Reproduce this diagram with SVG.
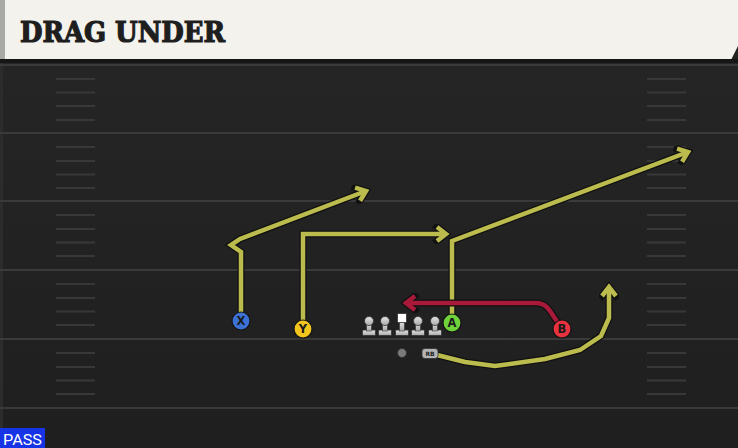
<svg xmlns="http://www.w3.org/2000/svg" width="738" height="448" viewBox="0 0 738 448">
<defs>
<linearGradient id="fieldGrad" x1="0" y1="0" x2="0" y2="1">
<stop offset="0" stop-color="#262626"/>
<stop offset="1" stop-color="#1f1f1f"/>
</linearGradient>
<linearGradient id="lineGrad" x1="0" y1="0" x2="0" y2="1">
<stop offset="0" stop-color="#e6e6e6"/>
<stop offset="1" stop-color="#a8a8a8"/>
</linearGradient>
<marker id="arrOut" markerUnits="userSpaceOnUse" viewBox="-14 -10 20 20" markerWidth="20" markerHeight="20" refX="0" refY="0" orient="auto">
<path d="M-9,-7 L0,0 L-9,7" fill="none" stroke="#111" stroke-width="7" stroke-linejoin="miter" stroke-linecap="square"/>
</marker>
<marker id="arrY" markerUnits="userSpaceOnUse" viewBox="-14 -10 20 20" markerWidth="20" markerHeight="20" refX="0" refY="0" orient="auto">
<path d="M-9,-7 L0,0 L-9,7" fill="none" stroke="#bcbc4e" stroke-width="4.5" stroke-linejoin="miter" stroke-linecap="butt"/>
</marker>
<marker id="arrR" markerUnits="userSpaceOnUse" viewBox="-14 -10 20 20" markerWidth="20" markerHeight="20" refX="0" refY="0" orient="auto">
<path d="M-9,-7 L0,0 L-9,7" fill="none" stroke="#a8193a" stroke-width="4.5" stroke-linejoin="miter" stroke-linecap="butt"/>
</marker>
<g id="lineman">
<rect x="-6.5" y="8" width="13" height="5.5" rx="1" fill="url(#lineGrad)" stroke="#333" stroke-width="0.8"/>
<rect x="-2.5" y="0" width="5" height="9" fill="url(#lineGrad)" stroke="#333" stroke-width="0.6"/>
<circle cx="0" cy="-1" r="4.5" fill="url(#lineGrad)" stroke="#333" stroke-width="0.8"/>
</g>
</defs>
<style>
.yard{stroke:#3a3a3a;stroke-width:2}
.hash{stroke:#383838;stroke-width:2}
.out{fill:none;stroke:#111;stroke-width:7;stroke-linejoin:miter}
.yel{fill:none;stroke:#bcbc4e;stroke-width:4.5;stroke-linejoin:miter}
.red{fill:none;stroke:#a8193a;stroke-width:4.5;stroke-linejoin:round}
.pl{stroke:#151515;stroke-width:1.2}
.lbl{font-family:"DejaVu Sans","Liberation Sans",sans-serif;font-weight:bold;font-size:11.5px;fill:#1a1a1a;text-anchor:middle}
</style>
<rect x="0" y="0" width="738" height="448" fill="url(#fieldGrad)"/>
<rect x="0" y="0" width="3" height="448" fill="#2c2c2c"/>
<g id="header">
<rect x="0" y="0" width="738" height="60" fill="#f4f2ec"/>
<rect x="0" y="0" width="5" height="60" fill="#a9a9a6"/>
<polygon points="738,46 738,60 731,60" fill="#222"/>
<rect x="0" y="59" width="738" height="4" fill="#161616"/>
<text x="20" y="42" font-family="'DejaVu Serif','Liberation Serif',serif" font-weight="bold" font-size="27" fill="#1e1e1e" stroke="#1e1e1e" stroke-width="1.2" textLength="205" lengthAdjust="spacingAndGlyphs">DRAG UNDER</text>
</g>
<g id="field">
<line class="yard" x1="0" y1="65" x2="738" y2="65"/>
<line class="yard" x1="0" y1="133" x2="738" y2="133"/>
<line class="yard" x1="0" y1="201" x2="738" y2="201"/>
<line class="yard" x1="0" y1="270" x2="738" y2="270"/>
<line class="yard" x1="0" y1="339" x2="738" y2="339"/>
<line class="yard" x1="0" y1="408" x2="738" y2="408"/>
<g class="hash">
<path d="M56,79H95M56,92.5H95M56,106H95M56,120H95M56,147H95M56,161H95M56,174.5H95M56,188H95M56,215H95M56,229H95M56,242.5H95M56,256H95M56,284H95M56,298H95M56,311.5H95M56,325H95M56,353H95M56,367H95M56,380.5H95M56,394H95"/>
<path d="M647,79H686M647,92.5H686M647,106H686M647,120H686M647,147H686M647,161H686M647,174.5H686M647,188H686M647,215H686M647,229H686M647,242.5H686M647,256H686M647,284H686M647,298H686M647,311.5H686M647,325H686M647,353H686M647,367H686M647,380.5H686M647,394H686"/>
</g>
</g>
<g id="connectors">
<path class="out" d="M241,321 L241,252 L231,245 L240,239 L366,191" marker-end="url(#arrOut)"/>
<path class="yel" d="M241,321 L241,252 L231,245 L240,239 L366,191" marker-end="url(#arrY)"/>
<path class="out" d="M303,329 L303,234 L446,234" marker-end="url(#arrOut)"/>
<path class="yel" d="M303,329 L303,234 L446,234" marker-end="url(#arrY)"/>
<path class="out" d="M452,323 L452,241 L688,152" marker-end="url(#arrOut)"/>
<path class="yel" d="M452,323 L452,241 L688,152" marker-end="url(#arrY)"/>
<path class="out" d="M437,355 L465,362 L495,366 L545,359 L580,350 L601,336 L609,318 L609,287" marker-end="url(#arrOut)"/>
<path class="yel" d="M437,355 L465,362 L495,366 L545,359 L580,350 L601,336 L609,318 L609,287" marker-end="url(#arrY)"/>
<path d="M558,323 L550,311 Q545,303 536,303 L406,303" fill="none" stroke="#111" stroke-width="7" stroke-linejoin="round" marker-end="url(#arrOut)"/>
<path class="red" d="M558,323 L550,311 Q545,303 536,303 L406,303" marker-end="url(#arrR)"/>
</g>
<g id="node-X">
<circle cx="241" cy="321" r="9" fill="#3c72d6" class="pl"/>
<text class="lbl" x="241" y="325">X</text>
</g>
<g id="node-Y">
<circle cx="303" cy="329" r="9" fill="#f2c41e" class="pl"/>
<text class="lbl" x="303" y="333">Y</text>
</g>
<g id="node-A">
<circle cx="452" cy="323" r="9" fill="#6fd23a" class="pl"/>
<text class="lbl" x="452" y="327">A</text>
</g>
<g id="node-B">
<circle cx="562" cy="329" r="9" fill="#e8323f" class="pl"/>
<text class="lbl" x="562" y="333">B</text>
</g>
<g id="node-LT"><use href="#lineman" x="369" y="322"/></g>
<g id="node-LG"><use href="#lineman" x="385" y="322"/></g>
<g id="node-C">
<rect x="395.5" y="330" width="13" height="5.5" rx="1" fill="url(#lineGrad)" stroke="#333" stroke-width="0.8"/>
<rect x="399.5" y="321" width="5" height="10" fill="url(#lineGrad)" stroke="#333" stroke-width="0.6"/>
<rect x="397.5" y="313.5" width="9" height="9" fill="#ffffff" stroke="#333" stroke-width="0.8"/>
</g>
<g id="node-RG"><use href="#lineman" x="418" y="322"/></g>
<g id="node-RT"><use href="#lineman" x="435" y="322"/></g>
<g id="node-QB">
<circle cx="402" cy="353" r="4.5" fill="#7a7a7a" stroke="#333" stroke-width="1"/>
</g>
<g id="node-RB">
<rect x="422" y="348.5" width="16" height="10" rx="3" fill="#b4b4b4" stroke="#333" stroke-width="0.8"/>
<text x="430" y="356" font-family="'DejaVu Sans','Liberation Sans',sans-serif" font-weight="bold" font-size="6" fill="#222" text-anchor="middle">RB</text>
</g>
<g id="pass-tag">
<rect x="0" y="428" width="45" height="20" fill="#1633e6"/>
<text x="3" y="445" font-family="Roboto,'Liberation Sans',sans-serif" font-size="15" fill="#ffffff" textLength="39" lengthAdjust="spacingAndGlyphs">PASS</text>
</g>
</svg>
